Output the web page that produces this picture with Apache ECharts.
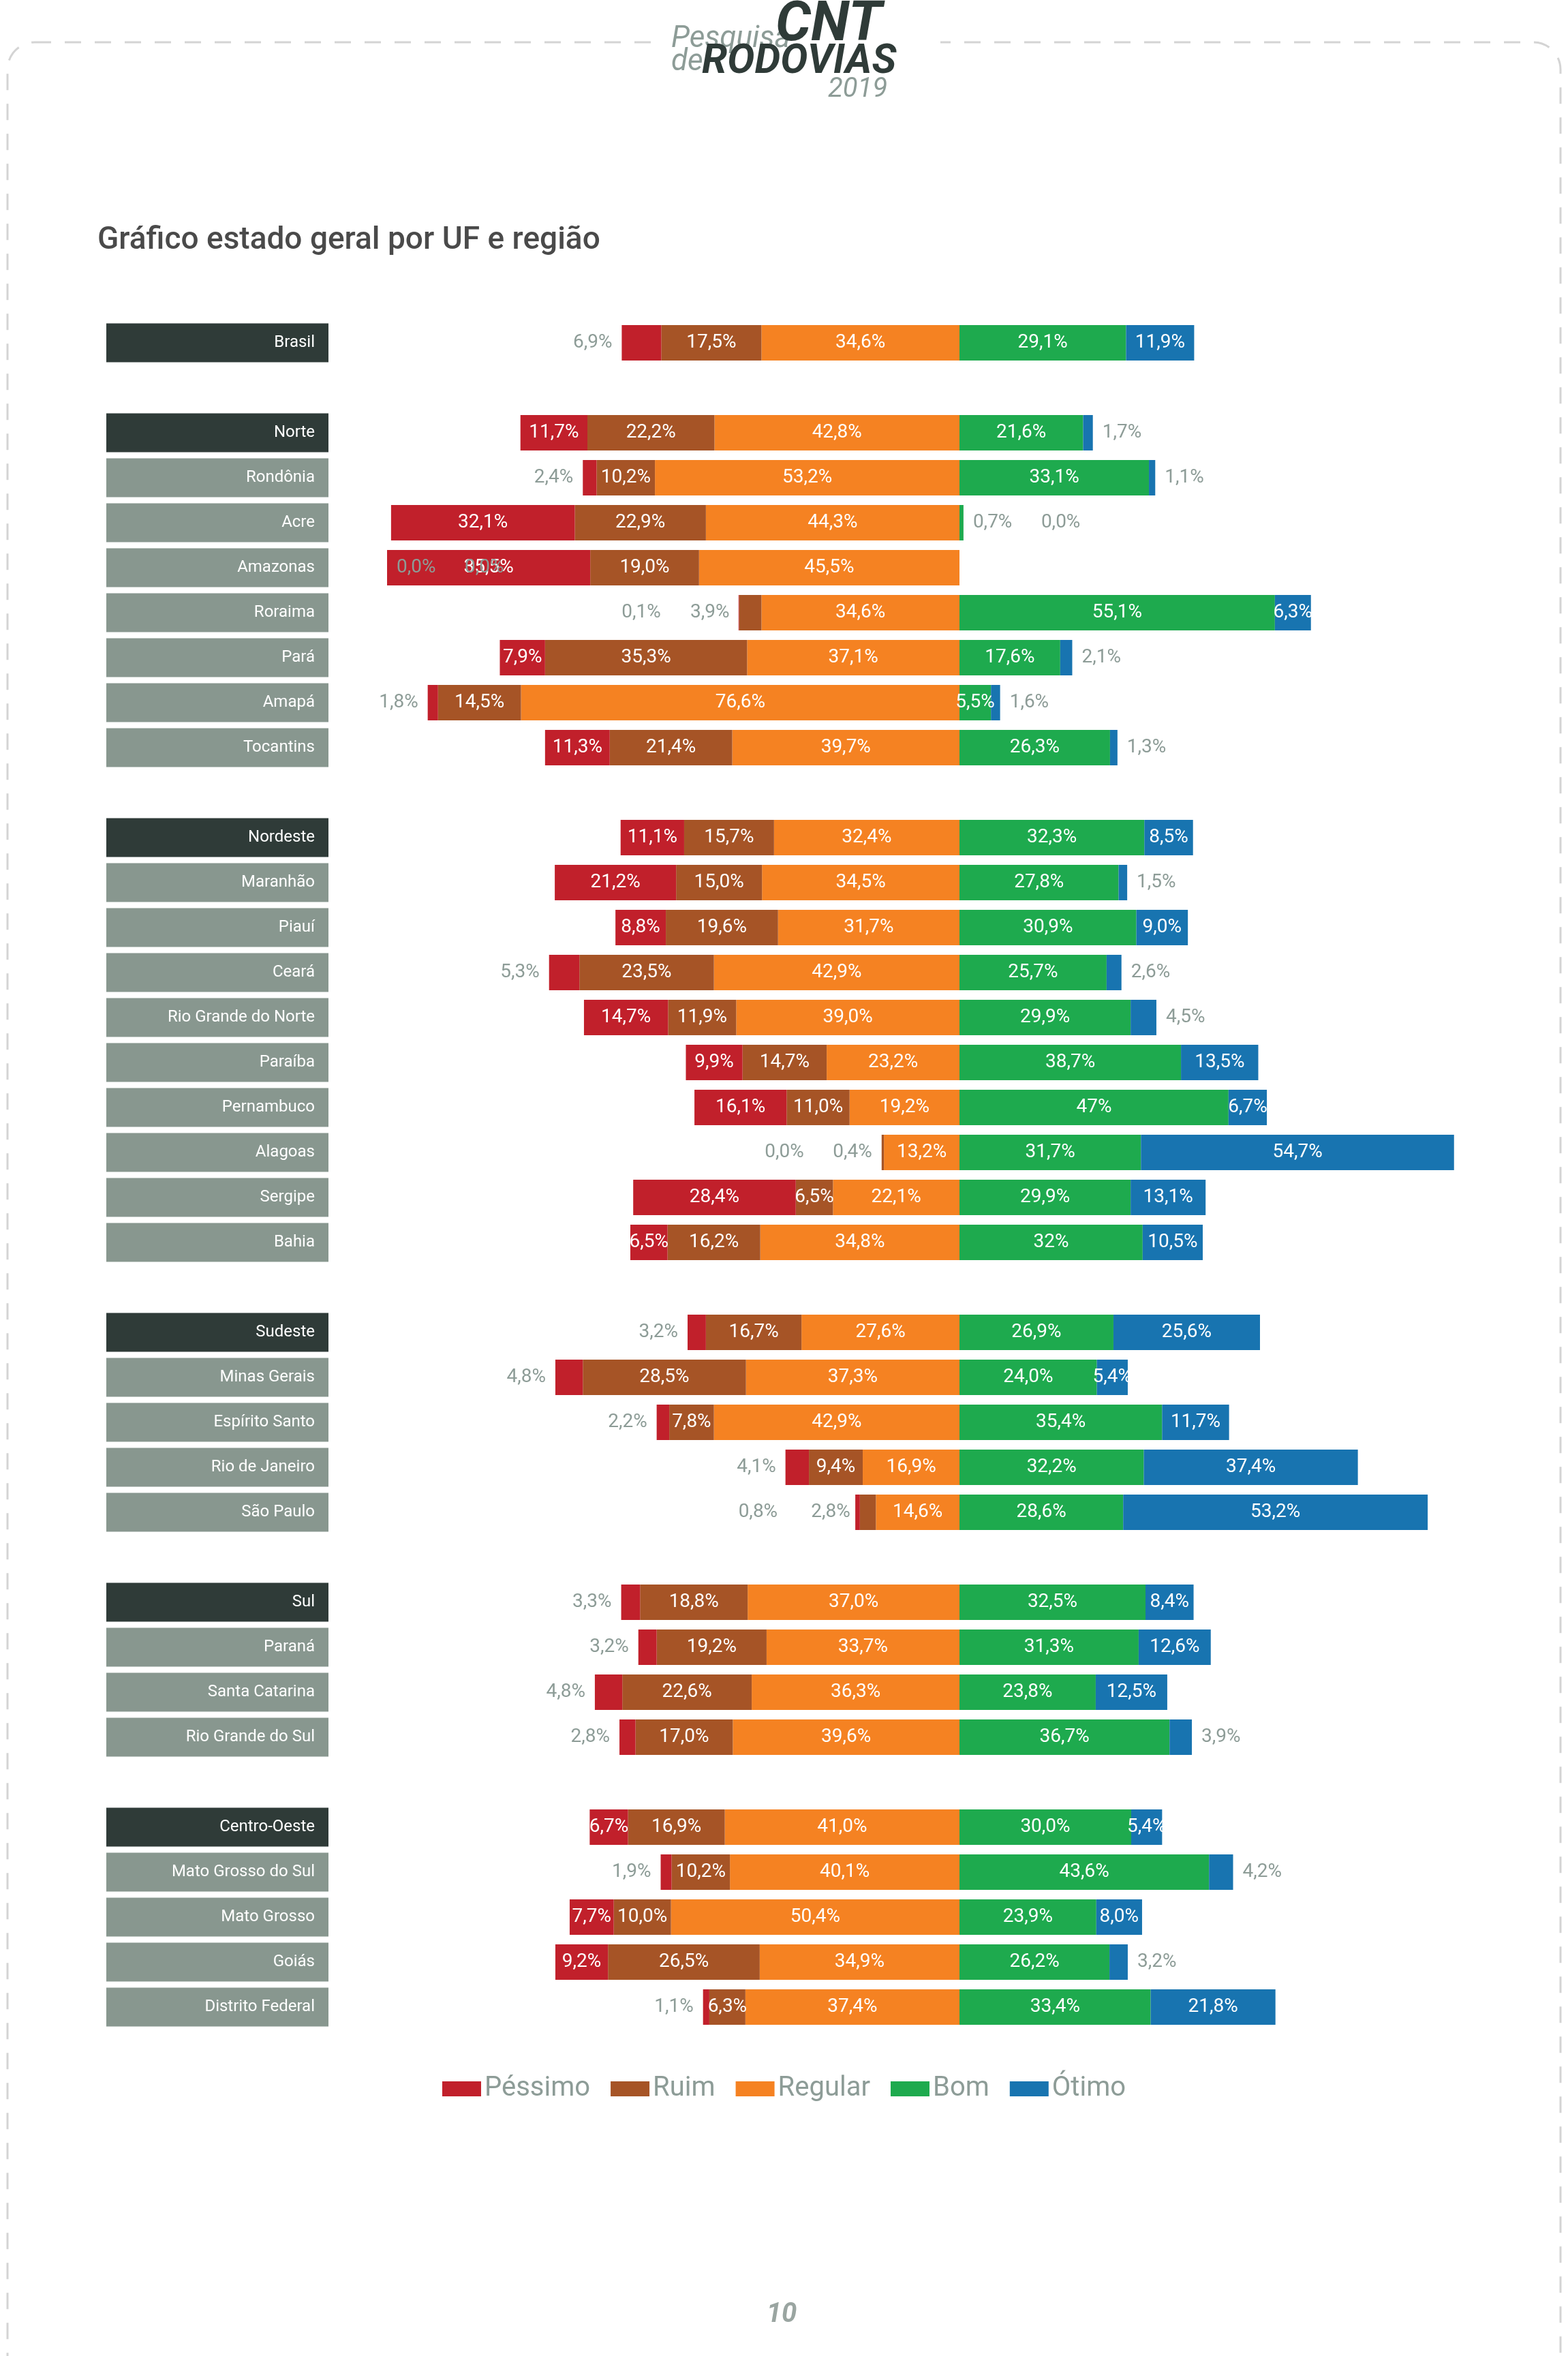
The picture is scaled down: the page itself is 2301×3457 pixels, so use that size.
<!DOCTYPE html>
<html><head><meta charset="utf-8">
<script src="https://cdn.jsdelivr.net/npm/echarts@6/dist/echarts.min.js"></script>
<style>html,body{margin:0;padding:0;background:#fff}#c{width:2301px;height:3457px}</style>
</head><body><div id="c"></div>
<script>
const categories = ['Brasil',' ','Norte','Rondônia','Acre','Amazonas','Roraima','Pará','Amapá','Tocantins','  ',
 'Nordeste','Maranhão','Piauí','Ceará','Rio Grande do Norte','Paraíba','Pernambuco','Alagoas','Sergipe','Bahia','   ',
 'Sudeste','Minas Gerais','Espírito Santo','Rio de Janeiro','São Paulo','    ',
 'Sul','Paraná','Santa Catarina','Rio Grande do Sul','     ',
 'Centro-Oeste','Mato Grosso do Sul','Mato Grosso','Goiás','Distrito Federal'];
const regions = ['Brasil','Norte','Nordeste','Sudeste','Sul','Centro-Oeste'];
const pessimo = ['6.9',null,'11.7','2.4','32.1','35.5','0.1','7.9','1.8','11.3',null,'11.1','21.2','8.8','5.3','14.7','9.9','16.1','0.0','28.4','6.5',null,'3.2','4.8','2.2','4.1','0.8',null,'3.3','3.2','4.8','2.8',null,'6.7','1.9','7.7','9.2','1.1'];
const ruim = ['17.5',null,'22.2','10.2','22.9','19.0','3.9','35.3','14.5','21.4',null,'15.7','15.0','19.6','23.5','11.9','14.7','11.0','0.4','6.5','16.2',null,'16.7','28.5','7.8','9.4','2.8',null,'18.8','19.2','22.6','17.0',null,'16.9','10.2','10.0','26.5','6.3'];
const regular = ['34.6',null,'42.8','53.2','44.3','45.5','34.6','37.1','76.6','39.7',null,'32.4','34.5','31.7','42.9','39.0','23.2','19.2','13.2','22.1','34.8',null,'27.6','37.3','42.9','16.9','14.6',null,'37.0','33.7','36.3','39.6',null,'41.0','40.1','50.4','34.9','37.4'];
const bom = ['29.1',null,'21.6','33.1','0.7','0.0','55.1','17.6','5.5','26.3',null,'32.3','27.8','30.9','25.7','29.9','38.7','47','31.7','29.9','32',null,'26.9','24.0','35.4','32.2','28.6',null,'32.5','31.3','23.8','36.7',null,'30.0','43.6','23.9','26.2','33.4'];
const otimo = ['11.9',null,'1.7','1.1','0.0','0.0','6.3','2.1','1.6','1.3',null,'8.5','1.5','9.0','2.6','4.5','13.5','6.7','54.7','13.1','10.5',null,'25.6','5.4','11.7','37.4','53.2',null,'8.4','12.6','12.5','3.9',null,'5.4','4.2','8.0','3.2','21.8'];

const COLORS = {'Péssimo':'#c1202b','Ruim':'#a65426','Regular':'#f58222','Bom':'#1eaa4e','Ótimo':'#1874b0'};
const GRAY = '#8d9c97';
const fmt = s => s.replace('.', ',') + '%';
const inLbl = {show:true, position:'inside', color:'#fff', fontSize:28, fontFamily:'Roboto'};
const outLbl = (pos, off) => ({show:true, position:pos, distance:14, offset:off||[0,0], color:GRAY, fontSize:28, fontFamily:'Roboto'});

function build(arr, sign, which) {
  return arr.map((s, i) => {
    if (s === null) return {value: null};
    const v = Number(s);
    let label = inLbl;
    if (which === 'p') {
      const ruimOut = Number(ruim[i]) < 5;
      if (v < 6 || categories[i] === 'Brasil') label = outLbl('left', ruimOut ? [-100, 0] : [0, 0]);
    } else if (which === 'r') {
      if (v < 5) label = outLbl('left');
    } else if (which === 'b') {
      if (v < 2) label = outLbl('right');
    } else if (which === 'o') {
      const bomOut = Number(bom[i]) < 2;
      if (v < 5) label = outLbl('right', bomOut ? [100, 0] : [0, 0]);
    }
    return {value: sign * v, label: Object.assign({formatter: fmt(s)}, label)};
  });
}
function ser(name, arr, sign, which) {
  return {name, type:'bar', stack:'all', barWidth:52, data: build(arr, sign, which),
    itemStyle:{color: COLORS[name]}, emphasis:{disabled:true}};
}

const chart = echarts.init(document.getElementById('c'), null, {renderer:'canvas'});
chart.setOption({
  backgroundColor:'#fff',
  animation:false,
  textStyle:{fontFamily:'Roboto'},
  grid:{left:568, right:53, top:470, bottom:479},
  xAxis:{type:'value', min:-100, max:100, show:false},
  yAxis:{type:'category', inverse:true, data:categories,
    axisLine:{show:false}, axisTick:{show:false}, splitLine:{show:false},
    axisLabel:{margin:86, interval:0,
      formatter: v => v.trim()==='' ? '' : (regions.includes(v) ? '{r|'+v+'}' : '{s|'+v+'}'),
      rich:{
        r:{backgroundColor:'#2f3b38', color:'#fff', fontSize:24, fontFamily:'Roboto', width:306, height:57, lineHeight:57, align:'right', padding:[0,20,0,0]},
        s:{backgroundColor:'#88978f', color:'#fff', fontSize:24, fontFamily:'Roboto', width:306, height:57, lineHeight:57, align:'right', padding:[0,20,0,0]}
      }}},
  legend:{top:3040, left:'center', itemWidth:57, itemHeight:22, itemGap:30, icon:'rect',
    data:['Péssimo','Ruim','Regular','Bom','Ótimo'],
    textStyle:{color:GRAY, fontSize:40, fontFamily:'Roboto'}},
  series:[ser('Regular', regular, -1, 'g'), ser('Ruim', ruim, -1, 'r'), ser('Péssimo', pessimo, -1, 'p'),
          ser('Bom', bom, 1, 'b'), ser('Ótimo', otimo, 1, 'o')],
  graphic:[
    {type:'rect', shape:{x:11, y:62, width:2279, height:3500, r:40}, silent:true, z:-10,
     style:{fill:'none', stroke:'#d4d4d4', lineWidth:3, lineDash:[24,20]}},
    {type:'rect', shape:{x:960, y:0, width:420, height:150}, style:{fill:'#fff'}, z:-5},
    {type:'text', x:985, y:58, style:{text:'Pesquisa', font:'italic 44px Roboto', fill:GRAY, textVerticalAlign:'middle'}},
    {type:'text', x:1138, y:38, style:{text:'CNT', font:'italic bold 82px Roboto', fill:'#2f3b38', textVerticalAlign:'middle'}},
    {type:'text', x:985, y:92, style:{text:'de', font:'italic 44px Roboto', fill:GRAY, textVerticalAlign:'middle'}},
    {type:'text', x:1030, y:92, style:{text:'RODOVIAS', font:'italic bold 60px Roboto', fill:'#2f3b38', textVerticalAlign:'middle'}},
    {type:'text', x:1215, y:132, style:{text:'2019', font:'italic 40px Roboto', fill:GRAY, textVerticalAlign:'middle'}},
    {type:'text', x:143, y:353, style:{text:'Gráfico estado geral por UF e região', font:'500 46px Roboto', fill:'#4a4a4a', textVerticalAlign:'middle'}},
    {type:'text', x:1147, y:3397, style:{text:'10', font:'italic bold 40px Roboto', fill:'#9aa5a1', textAlign:'center', textVerticalAlign:'middle'}}
  ]
});
</script></body></html>
